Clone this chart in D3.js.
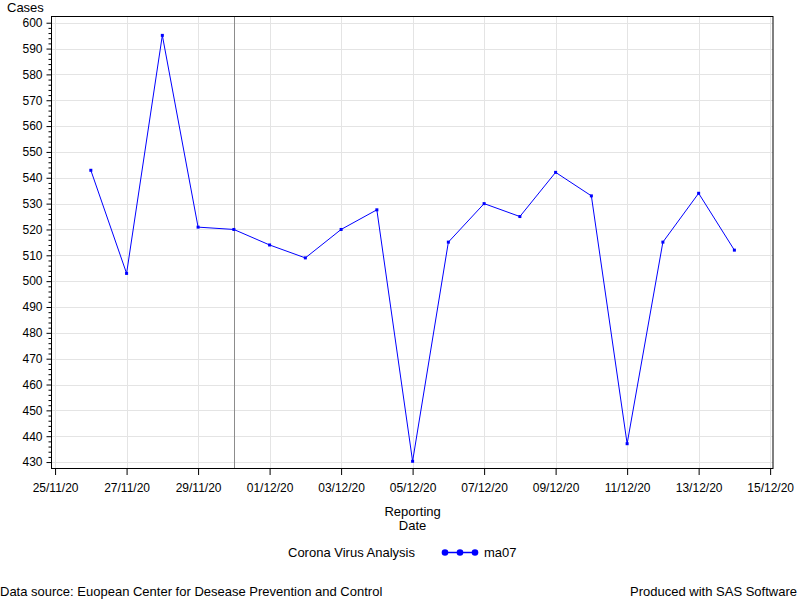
<!DOCTYPE html>
<html>
<head>
<meta charset="utf-8">
<script src="https://cdn.jsdelivr.net/npm/d3@7"></script>
<style>
  body { margin: 0; background: #fff; }
  text { font-family: "Liberation Sans", Arial, sans-serif; fill: #000; }
</style>
</head>
<body>
<svg id="chart" width="800" height="600"></svg>
<script>
const dates = ["2020-11-26","2020-11-27","2020-11-28","2020-11-29","2020-11-30","2020-12-01","2020-12-02","2020-12-03","2020-12-04","2020-12-05","2020-12-06","2020-12-07","2020-12-08","2020-12-09","2020-12-10","2020-12-11","2020-12-12","2020-12-13","2020-12-14"];
const ma07 = [542.9, 503, 595.1, 520.9, 520, 514, 509, 520, 527.6, 430.3, 515.1, 530, 525, 542.1, 533, 437.1, 515.1, 534, 512];
const yTicks = [430, 440, 450, 460, 470, 480, 490, 500, 510, 520, 530, 540, 550, 560, 570, 580, 590, 600];
const xTickDates = ["2020-11-25","2020-11-27","2020-11-29","2020-12-01","2020-12-03","2020-12-05","2020-12-07","2020-12-09","2020-12-11","2020-12-13","2020-12-15"];
const refLineDate = "2020-11-30";
const yLabel = "Cases";
const xLabelLines = ["Reporting", "Date"];
const legendTitle = "Corona Virus Analysis";
const seriesName = "ma07";
const footLeft = "Data source: Euopean Center for Desease Prevention and Control";
const footRight = "Produced with SAS Software";

const parse = d3.utcParse("%Y-%m-%d");
const fmt = d3.utcFormat("%d/%m/%y");
const data = dates.map((d, i) => ({ date: parse(d), v: ma07[i] }));

const svg = d3.select("#chart");
const L = 51.5, R = 773, T = 16, B = 468;
const day = 864e5;
const x = d3.scaleUtc()
  .domain([new Date(parse("2020-11-25").getTime() - 0.1 * day), new Date(parse("2020-12-15").getTime() + 0.08 * day)])
  .range([L, R]);
const y = d3.scaleLinear().domain([427.7, 602.6]).range([B, T]);

// grid
const g = svg.append("g");
g.selectAll("line.hg").data(yTicks).enter().append("line")
  .attr("x1", L).attr("x2", R)
  .attr("y1", d => Math.round(y(d)) + 0.5).attr("y2", d => Math.round(y(d)) + 0.5)
  .attr("stroke", "#e4e4e4").attr("stroke-width", 1);
g.selectAll("line.vg").data(xTickDates.map(parse)).enter().append("line")
  .attr("x1", d => Math.round(x(d)) + 0.5).attr("x2", d => Math.round(x(d)) + 0.5)
  .attr("y1", T).attr("y2", B)
  .attr("stroke", "#e4e4e4").attr("stroke-width", 1);

// reference line
svg.append("line")
  .attr("x1", Math.round(x(parse(refLineDate))) + 0.5).attr("x2", Math.round(x(parse(refLineDate))) + 0.5)
  .attr("y1", T).attr("y2", B)
  .attr("stroke", "#8c8c8c").attr("stroke-width", 1);

// series
const line = d3.line().x(d => x(d.date)).y(d => y(d.v));
svg.append("path").datum(data).attr("d", line)
  .attr("fill", "none").attr("stroke", "#0000ff").attr("stroke-width", 1);
svg.selectAll("rect.m").data(data).enter().append("rect")
  .attr("x", d => x(d.date) - 1.5).attr("y", d => y(d.v) - 1.5)
  .attr("width", 3).attr("height", 3).attr("fill", "#0000ff");

// frame
svg.append("rect").attr("x", L).attr("y", T + 0.5).attr("width", R - L).attr("height", B - T)
  .attr("fill", "none").attr("stroke", "#000").attr("stroke-width", 1);

// y axis
const minor = d3.range(430, 601, 2).filter(v => v % 10 !== 0);
const yAxis = svg.append("g").attr("transform", `translate(${L},0)`);
yAxis.call(d3.axisLeft(y).tickValues(yTicks).tickSize(5).tickSizeOuter(0).tickPadding(4));
yAxis.select(".domain").remove();
yAxis.selectAll(".tick text").attr("font-size", 12).attr("font-family", "Liberation Sans, Arial, sans-serif").attr("fill", "#000");
const yMinor = svg.append("g").attr("transform", `translate(${L},0)`);
yMinor.call(d3.axisLeft(y).tickValues(minor).tickSize(3).tickFormat(""));
yMinor.select(".domain").remove();

// x axis
const xAxis = svg.append("g").attr("transform", `translate(0,${B})`);
xAxis.call(d3.axisBottom(x).tickValues(xTickDates.map(parse)).tickFormat(fmt).tickSize(7).tickSizeOuter(0).tickPadding(8));
xAxis.select(".domain").remove();
xAxis.selectAll(".tick text").attr("font-size", 12).attr("font-family", "Liberation Sans, Arial, sans-serif").attr("fill", "#000");

// labels
svg.append("text").attr("x", 7).attr("y", 12).attr("font-size", 13).text(yLabel);
const xc = x(parse("2020-12-05"));
xLabelLines.forEach((t, i) => {
  svg.append("text").attr("x", xc).attr("y", 516 + i * 14).attr("text-anchor", "middle").attr("font-size", 13).text(t);
});

// legend
svg.append("text").attr("x", 288).attr("y", 557).attr("font-size", 13).text(legendTitle);
svg.append("line").attr("x1", 445).attr("x2", 475).attr("y1", 552.5).attr("y2", 552.5).attr("stroke", "#0000ff").attr("stroke-width", 1.5);
[445, 460, 475].forEach(cx => svg.append("circle").attr("cx", cx).attr("cy", 552.5).attr("r", 3.3).attr("fill", "#0000ff"));
svg.append("text").attr("x", 484).attr("y", 557).attr("font-size", 13).text(seriesName);

// footnotes
svg.append("text").attr("x", 0).attr("y", 596).attr("font-size", 13).text(footLeft);
svg.append("text").attr("x", 797).attr("y", 596).attr("text-anchor", "end").attr("font-size", 13).text(footRight);
</script>
</body>
</html>
